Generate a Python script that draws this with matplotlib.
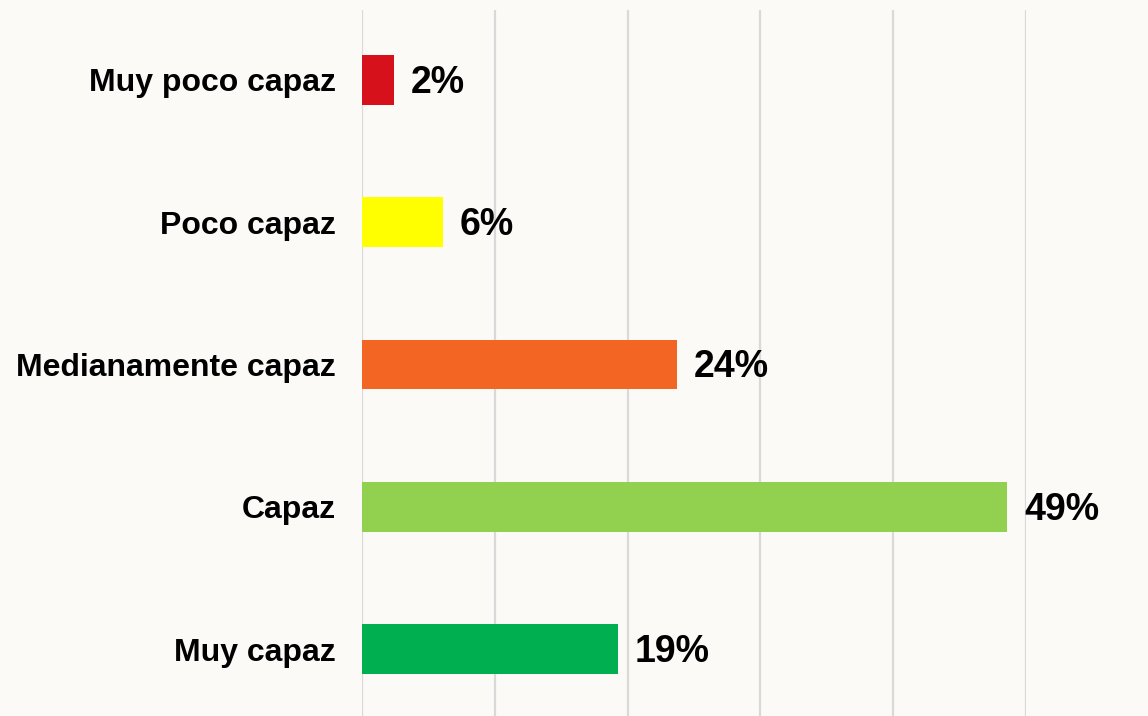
import matplotlib.pyplot as plt

categories = ['Muy poco capaz', 'Poco capaz', 'Medianamente capaz', 'Capaz', 'Muy capaz']
values = [2.4, 6.1, 23.7, 48.6, 19.3]
colors = ['#D7111B', '#FFFF00', '#F26522', '#92D050', '#00B050']
ticks = [0, 10, 20, 30, 40, 50]

plt.rcParams['font.family'] = ['Liberation Sans', 'DejaVu Sans']

bg = '#FBFAF6'
fig = plt.figure(figsize=(11.48, 7.16), dpi=100, facecolor=bg)
# axes spans from the 0% gridline (x=362) to the 50% gridline (x=1026)
ax = fig.add_axes([362/1148, 0, (1026-362)/1148, 706/716])
ax.set_facecolor(bg)

y = range(len(categories))
ax.barh(y, values, height=0.35, color=colors, zorder=3)

for i, v in enumerate(values):
    ax.annotate(f'{round(v)}%', (v, i), xytext=(12, -2), textcoords='offset points',
                va='center', ha='left', fontsize=27, fontweight='bold', color='black')

ax.set_xlim(0, 50)
ax.set_ylim(4.47, -0.49)
ax.set_xticks(ticks)
ax.xaxis.grid(True, color='#D9D9D9', linewidth=1.6, zorder=0)
ax.tick_params(axis='x', bottom=False, labelbottom=False)
ax.set_yticks(list(y))
ax.set_yticklabels(categories, fontsize=23, fontweight='bold')
ax.tick_params(axis='y', left=False, pad=15.5)
for s in ax.spines.values():
    s.set_visible(False)

fig.savefig('out.png', dpi=100, facecolor=bg)
